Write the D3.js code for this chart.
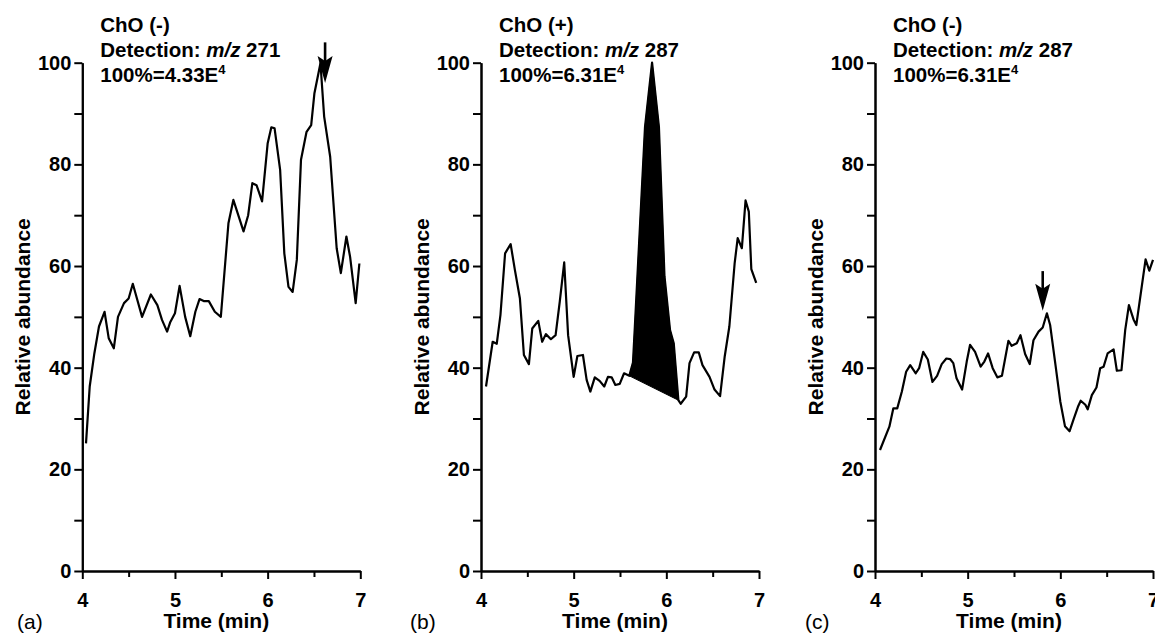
<!DOCTYPE html>
<html>
<head>
<meta charset="utf-8">
<script src="https://cdn.jsdelivr.net/npm/d3@7"></script>
<style>
  body { margin: 0; background: #fff; }
  svg { display: block; font-family: "Liberation Sans", Arial, Helvetica, sans-serif; }
</style>
</head>
<body>
<div id="chart"></div>
<script>
// chromatogram traces, [time (min), relative abundance]
const traceA = [[4.04,25.1],[4.08,36.3],[4.13,42.8],[4.18,48.1],[4.24,51.0],[4.285,45.8],[4.34,43.8],[4.385,50.0],[4.45,52.7],[4.50,53.6],[4.545,56.5],[4.645,50.0],[4.74,54.4],[4.81,52.3],[4.86,49.4],[4.915,47.1],[4.95,49.0],[5.00,50.7],[5.05,56.1],[5.11,50.0],[5.165,46.2],[5.22,51.0],[5.265,53.5],[5.31,53.1],[5.365,53.1],[5.43,51.0],[5.495,50.0],[5.577,68.4],[5.63,73.0],[5.74,66.8],[5.79,70.0],[5.835,76.3],[5.88,75.9],[5.94,72.7],[6.0,84.1],[6.04,87.3],[6.075,87.1],[6.135,78.9],[6.18,62.5],[6.225,55.9],[6.27,54.9],[6.315,61.2],[6.36,80.9],[6.42,86.4],[6.47,87.7],[6.505,94.0],[6.57,99.9],[6.61,89.4],[6.675,81.5],[6.745,63.5],[6.79,58.6],[6.85,65.8],[6.89,61.8],[6.95,52.7],[6.99,60.5]];
const traceB = [[4.054,36.3],[4.126,45.1],[4.17,44.7],[4.21,50.4],[4.26,62.5],[4.32,64.3],[4.366,59.2],[4.42,53.6],[4.463,42.5],[4.517,40.7],[4.553,47.7],[4.618,49.2],[4.66,45.1],[4.70,46.6],[4.754,45.6],[4.805,46.4],[4.85,53.0],[4.898,60.7],[4.94,46.4],[5.0,38.2],[5.04,42.3],[5.10,42.5],[5.14,37.6],[5.18,35.3],[5.228,38.1],[5.28,37.4],[5.33,36.3],[5.37,38.2],[5.41,38.1],[5.45,36.6],[5.497,36.8],[5.544,38.9],[5.60,38.4],[5.64,41.0],[5.66,48.0],[5.77,87.4],[5.846,100],[5.92,87.4],[5.98,58.0],[6.04,47.4],[6.08,44.8],[6.13,33.6],[6.155,32.9],[6.214,34.3],[6.25,40.9],[6.30,43.0],[6.35,43.0],[6.39,40.5],[6.466,38.2],[6.52,35.7],[6.58,34.4],[6.63,42.2],[6.68,48.1],[6.737,60.5],[6.77,65.5],[6.815,63.5],[6.855,72.9],[6.89,70.7],[6.917,59.4],[6.97,56.7]];
const traceC = [[4.054,23.8],[4.155,28.4],[4.198,32.0],[4.24,32.0],[4.29,35.3],[4.336,39.2],[4.38,40.5],[4.44,38.9],[4.476,39.9],[4.52,43.1],[4.57,41.6],[4.62,37.2],[4.67,38.4],[4.72,40.7],[4.77,41.8],[4.81,41.7],[4.845,40.9],[4.88,37.9],[4.94,35.7],[4.99,41.2],[5.026,44.5],[5.08,43.1],[5.14,40.2],[5.18,41.2],[5.22,42.8],[5.27,39.9],[5.32,38.1],[5.37,38.4],[5.44,45.3],[5.475,44.3],[5.53,44.8],[5.57,46.4],[5.62,42.7],[5.67,40.7],[5.71,45.4],[5.765,47.1],[5.81,47.9],[5.855,50.7],[5.89,48.4],[5.95,40.2],[6.0,33.3],[6.05,28.5],[6.10,27.5],[6.14,29.7],[6.19,32.3],[6.22,33.5],[6.27,32.7],[6.295,31.8],[6.34,34.6],[6.39,36.1],[6.43,39.9],[6.467,40.2],[6.51,42.8],[6.575,43.6],[6.61,39.4],[6.66,39.5],[6.70,47.4],[6.74,52.3],[6.79,49.5],[6.82,48.4],[6.92,61.3],[6.96,59.1],[7.0,61.2]];

const yMajor = [0, 20, 40, 60, 80, 100];
const yMinor = [10, 30, 50, 70, 90];
const xMajor = [4, 5, 6, 7];
const xMinor = [4.5, 5.5, 6.5];

const letters = ["(a)", "(b)", "(c)"];
const modes = ["ChO (-)", "ChO (+)", "ChO (-)"];
const detections = ["271", "287", "287"];
const bases = ["4.33", "6.31", "6.31"];
// arrow markers: time, value at shaft top, value at tip
const arrows = [{ t: 6.62, from: 104, to: 96 }, null, { t: 5.81, from: 59, to: 51.2 }];
// integrated peak window in (b)
const peakB = [5.60, 6.13];

const traces = [traceA, traceB, traceC];
const peaks = [null, peakB, null];

const width = 1155, height = 637;
const axisLeftX = [82.3, 481, 875];
const letterX = [17, 410, 805];
const plotW = 278, plotTop = 62.7, plotBottom = 571;

const svg = d3.select("#chart").append("svg")
  .attr("width", width)
  .attr("height", height)
  .attr("viewBox", `0 0 ${width} ${height}`);

traces.forEach((trace, i) => {
  const x = d3.scaleLinear().domain([4, 7]).range([axisLeftX[i], axisLeftX[i] + plotW]);
  const y = d3.scaleLinear().domain([0, 100]).range([plotBottom, plotTop]);
  const g = svg.append("g");

  // y axis, major + minor
  g.append("g").attr("transform", `translate(${axisLeftX[i]},0)`)
    .call(d3.axisLeft(y).tickValues(yMajor).tickSize(8).tickSizeOuter(0).tickPadding(3));
  g.append("g").attr("transform", `translate(${axisLeftX[i]},0)`)
    .call(d3.axisLeft(y).tickValues(yMinor).tickSize(8).tickSizeOuter(0).tickFormat(""));
  // x axis
  g.append("g").attr("transform", `translate(0,${plotBottom})`)
    .call(d3.axisBottom(x).tickValues(xMajor).tickSize(8).tickSizeOuter(0).tickPadding(14).tickFormat(d3.format("d")));
  g.append("g").attr("transform", `translate(0,${plotBottom})`)
    .call(d3.axisBottom(x).tickValues(xMinor).tickSize(6).tickSizeOuter(0).tickFormat(""));

  g.selectAll(".domain").attr("stroke", "#000").attr("stroke-width", 2);
  g.selectAll(".tick line").attr("stroke", "#000").attr("stroke-width", 2);
  g.selectAll(".tick text")
    .attr("fill", "#000")
    .style("font-size", "20px")
    .style("font-weight", "bold")
    .style("font-family", "'Liberation Sans', Arial, sans-serif");

  // peak fill
  if (peaks[i]) {
    const pts = trace.filter(d => d[0] >= peaks[i][0] && d[0] <= peaks[i][1]);
    g.append("path")
      .attr("d", d3.line().x(d => x(d[0])).y(d => y(d[1]))(pts) + "Z")
      .attr("fill", "#000")
      .attr("stroke", "#000")
      .attr("stroke-width", 1);
  }

  // trace
  g.append("path")
    .datum(trace)
    .attr("d", d3.line().x(d => x(d[0])).y(d => y(d[1])))
    .attr("fill", "none")
    .attr("stroke", "#000")
    .attr("stroke-width", 2.2)
    .attr("stroke-linejoin", "round");

  // arrow marker
  const a = arrows[i];
  if (a) {
    const ax = x(a.t), y0 = y(a.from), y1 = y(a.to);
    const headLen = 27, headW = 7.5;
    g.append("line")
      .attr("x1", ax).attr("x2", ax)
      .attr("y1", y0).attr("y2", y1 - headLen + 6)
      .attr("stroke", "#000").attr("stroke-width", 2.6);
    g.append("path")
      .attr("d", `M${ax},${y1} L${ax - headW},${y1 - headLen} L${ax},${y1 - headLen + 5} L${ax + headW},${y1 - headLen} Z`)
      .attr("fill", "#000");
  }

  // header text
  const tx = axisLeftX[i] + 18;
  const hdr = g.append("g")
    .style("font-size", "20.5px")
    .style("font-weight", "bold")
    .attr("fill", "#000");
  hdr.append("text").attr("x", tx).attr("y", 31.7).text(modes[i]);
  const det = hdr.append("text").attr("x", tx).attr("y", 56.7);
  det.append("tspan").text("Detection: ");
  det.append("tspan").style("font-style", "italic").text("m/z");
  det.append("tspan").text(" " + detections[i]);
  const pct = hdr.append("text").attr("x", tx).attr("y", 81.7);
  pct.append("tspan").text("100%=" + bases[i] + "E");
  pct.append("tspan").attr("dy", -8).style("font-size", "13px").text("4");

  // axis titles
  g.append("text")
    .attr("transform", `translate(${axisLeftX[i] - 60},${(plotTop + plotBottom) / 2}) rotate(-90)`)
    .attr("text-anchor", "middle")
    .attr("dy", "0.36em")
    .style("font-size", "21px")
    .style("font-weight", "bold")
    .text("Relative abundance");
  g.append("text")
    .attr("x", axisLeftX[i] + 134)
    .attr("y", 628)
    .attr("text-anchor", "middle")
    .style("font-size", "21px")
    .style("font-weight", "bold")
    .text("Time (min)");
  g.append("text")
    .attr("x", letterX[i])
    .attr("y", 629)
    .style("font-size", "21px")
    .text(letters[i]);
});
</script>
</body>
</html>
